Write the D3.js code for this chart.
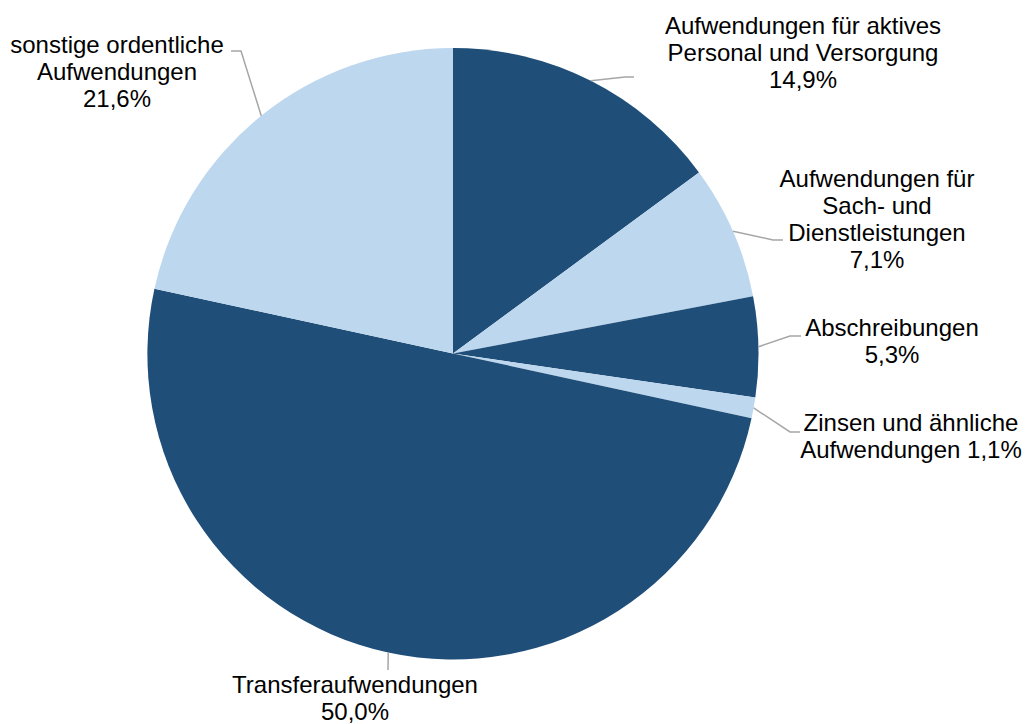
<!DOCTYPE html>
<html>
<head>
<meta charset="utf-8">
<script src="https://cdn.jsdelivr.net/npm/d3@7"></script>
<style>
  body { margin: 0; background: #fff; }
  text { font-family: "Liberation Sans", Arial, sans-serif; font-size: 24px; fill: #000; }
</style>
</head>
<body>
<svg id="chart" width="1027" height="724"></svg>
<script>
// data (clockwise from 12 o'clock)
const categories = [
    "Aufwendungen für aktives Personal und Versorgung",
    "Aufwendungen für Sach- und Dienstleistungen",
    "Abschreibungen",
    "Zinsen und ähnliche Aufwendungen",
    "Transferaufwendungen",
    "sonstige ordentliche Aufwendungen"
];
const values = [14.9, 7.1, 5.3, 1.1, 50.0, 21.6];
const valueLabels = ["14,9%", "7,1%", "5,3%", "1,1%", "50,0%", "21,6%"];
const labelLines = [
    ["Aufwendungen für aktives", "Personal und Versorgung", "14,9%"],
    ["Aufwendungen für", "Sach- und", "Dienstleistungen", "7,1%"],
    ["Abschreibungen", "5,3%"],
    ["Zinsen und ähnliche", "Aufwendungen 1,1%"],
    ["Transferaufwendungen", "50,0%"],
    ["sonstige ordentliche", "Aufwendungen", "21,6%"]
];

// layout of labels: text centre x, first line centre y, leader elbow and end
const labelLayout = [
    { x: 803, y: 26, elbow: [625, 77], end: [634, 77] },
    { x: 877, y: 179, elbow: [773, 240], end: [783, 240] },
    { x: 892, y: 328, elbow: [790, 336], end: [801, 336] },
    { x: 911, y: 423, elbow: [790, 432], end: [800, 432] },
    { x: 355, y: 685, elbow: [388, 670], end: [388, 670] },
    { x: 117, y: 45, elbow: [241, 51], end: [231, 51] }
];

const svg = d3.select("#chart");
const cx = 453, cy = 353.5, radius = 305.5;
const lineHeight = 27;

const colors = ["#1F4E79", "#BDD7EE", "#1F4E79", "#BDD7EE", "#1F4E79", "#BDD7EE"];

const pie = d3.pie().sort(null).value(d => d);
const arcs = pie(values);
const arc = d3.arc().innerRadius(0).outerRadius(radius);

const g = svg.append("g").attr("transform", `translate(${cx},${cy})`);

g.selectAll("path.slice")
    .data(arcs)
    .enter().append("path")
    .attr("class", "slice")
    .attr("d", arc)
    .attr("fill", (d, i) => colors[i]);

// leader lines
arcs.forEach((a, i) => {
    const mid = (a.startAngle + a.endAngle) / 2;
    const sx = cx + radius * Math.sin(mid);
    const sy = cy - radius * Math.cos(mid);
    const L = labelLayout[i];
    svg.append("polyline")
        .attr("points", [[sx, sy], L.elbow, L.end].map(p => p.join(",")).join(" "))
        .attr("fill", "none")
        .attr("stroke", "#A6A6A6")
        .attr("stroke-width", 1.5);
});

// labels
labelLines.forEach((lines, i) => {
    const L = labelLayout[i];
    const t = svg.append("text")
        .attr("text-anchor", "middle");
    lines.forEach((line, j) => {
        t.append("tspan")
            .attr("x", L.x)
            .attr("y", L.y + j * lineHeight)
            .attr("dy", "0.35em")
            .text(line);
    });
});
</script>
</body>
</html>
